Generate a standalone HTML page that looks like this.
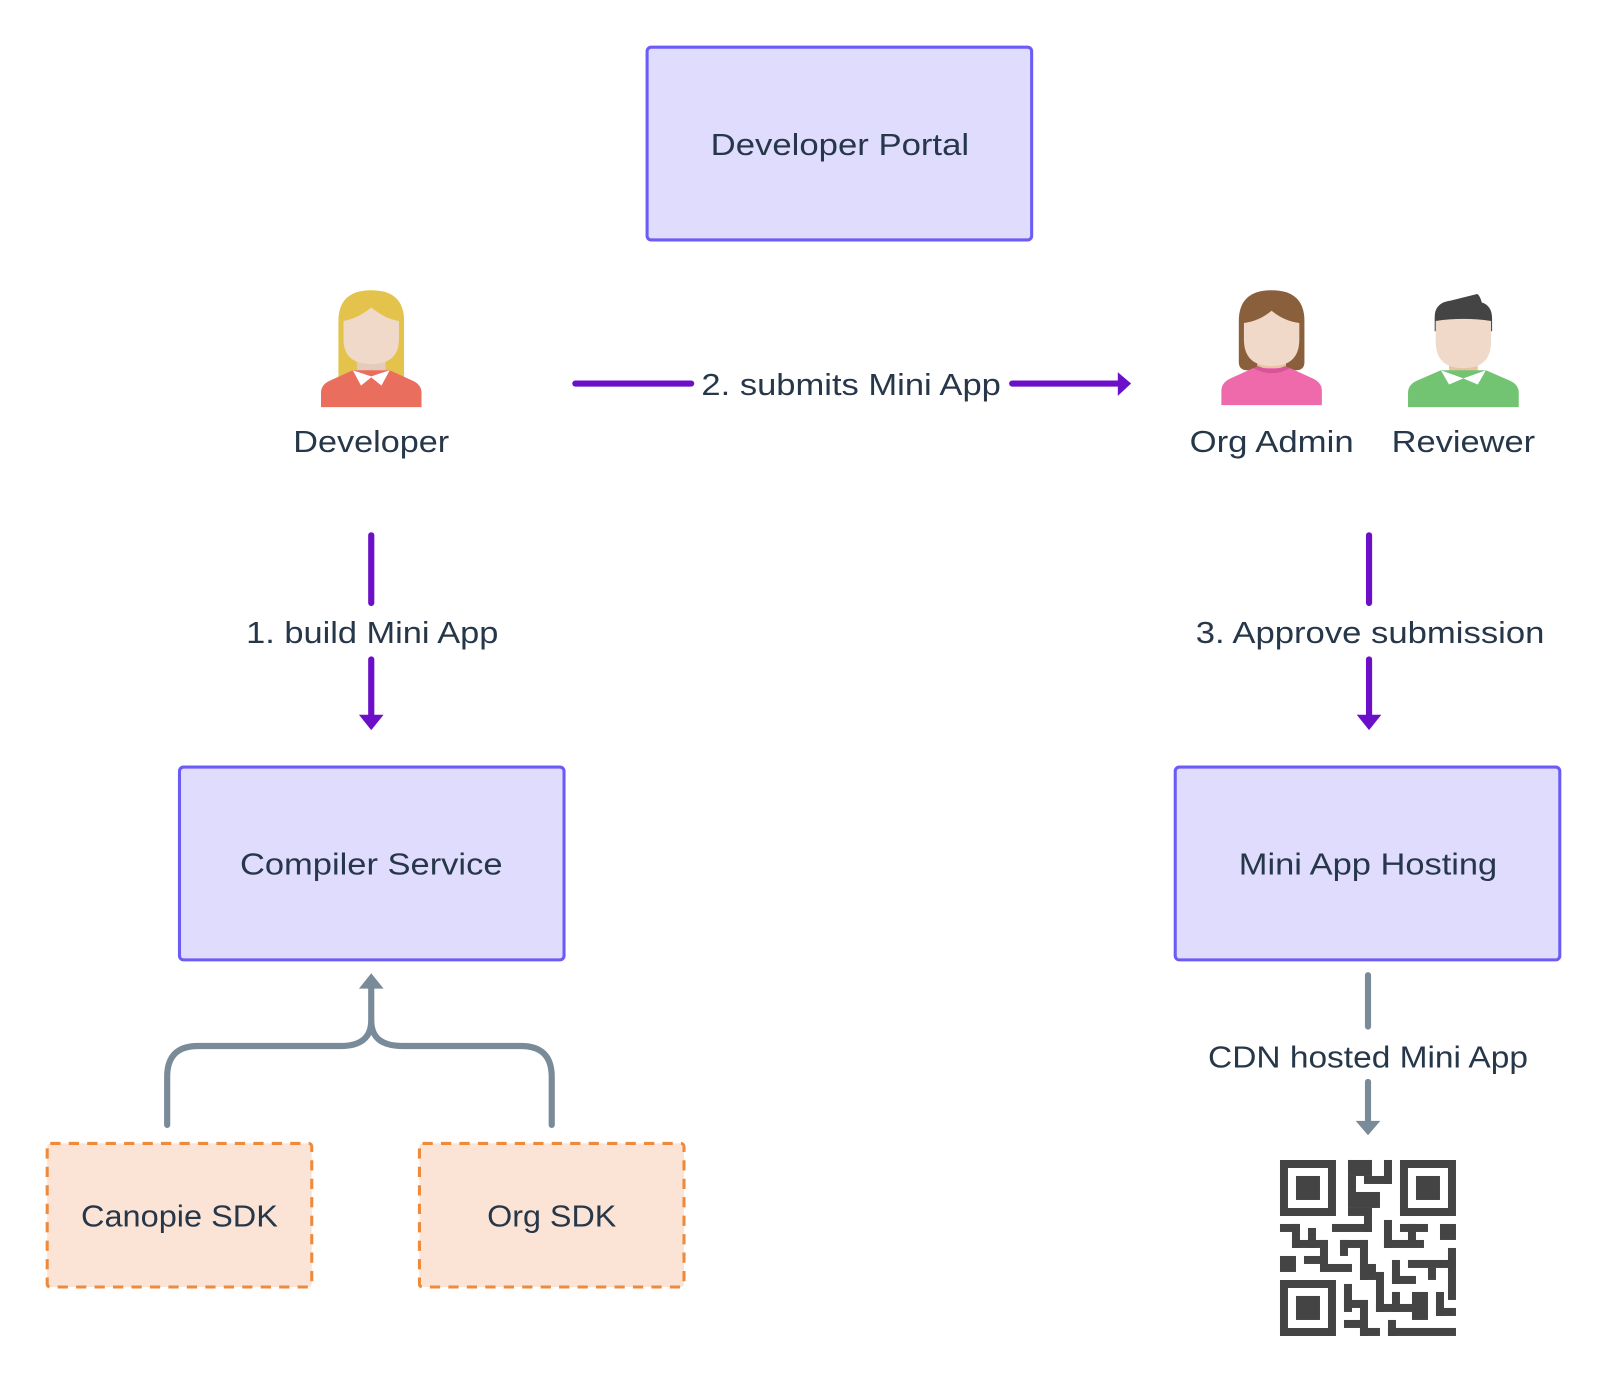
<!DOCTYPE html>
<html><head><meta charset="utf-8"><style>html,body{margin:0;padding:0;background:#fff}svg{display:block}text{font-family:"Liberation Sans",sans-serif;fill:#27374a;font-size:30px;text-anchor:middle}</style></head>
<body>
<svg width="1608" height="1392" viewBox="0 0 1568 1357.4" xmlns="http://www.w3.org/2000/svg">
<!-- boxes -->
<rect x="631" y="46" width="375" height="188" rx="4" fill="#e0dcfd" stroke="#6b5cf5" stroke-width="3"/>
<text x="819" y="151" textLength="252" lengthAdjust="spacingAndGlyphs">Developer Portal</text>
<rect x="175" y="748" width="375" height="188" rx="4" fill="#e0dcfd" stroke="#6b5cf5" stroke-width="3"/>
<text x="362" y="853" textLength="256" lengthAdjust="spacingAndGlyphs">Compiler Service</text>
<rect x="1146" y="748" width="375" height="188" rx="4" fill="#e0dcfd" stroke="#6b5cf5" stroke-width="3"/>
<text x="1334" y="853" textLength="252" lengthAdjust="spacingAndGlyphs">Mini App Hosting</text>
<rect x="46" y="1115" width="258" height="140" rx="3" fill="#fbe4d6" stroke="#ee8a3c" stroke-width="3" stroke-dasharray="10,8"/>
<text x="175" y="1196" textLength="192" lengthAdjust="spacingAndGlyphs">Canopie SDK</text>
<rect x="409" y="1115" width="258" height="140" rx="3" fill="#fbe4d6" stroke="#ee8a3c" stroke-width="3" stroke-dasharray="10,8"/>
<text x="538" y="1196" textLength="126" lengthAdjust="spacingAndGlyphs">Org SDK</text>

<!-- developer icon -->
<g transform="translate(362,283)">
 <path d="M-32,90 L-32,30 Q-32,0 0,0 Q32,0 32,30 L32,90 Z" fill="#e3c34c"/>
 <rect x="-14" y="55" width="28" height="28" fill="#e5cbbb"/>
 <path d="M-27,30 Q-14,28 0,17 Q14,28 27,30 L27,48 Q27,72 0,72 Q-27,72 -27,48 Z" fill="#f0d9c9"/>
 <path d="M-49,114 L-49,100 Q-49,92 -40,88 L-18,78 L18,78 L40,88 Q49,92 49,100 L49,114 Z" fill="#e96e5e"/>
 <path d="M-18,78 L-10,93 L0,85 L10,93 L18,78 L0,84 Z" fill="#fff"/>
</g>
<text x="362" y="441" textLength="152" lengthAdjust="spacingAndGlyphs">Developer</text>

<!-- org admin -->
<g transform="translate(1240,283)">
 <path d="M-32,70 L-32,30 Q-32,0 0,0 Q32,0 32,30 L32,70 Q32,78 24,78 L-24,78 Q-32,78 -32,70 Z" fill="#8a603c"/>
 <rect x="-14" y="55" width="28" height="28" fill="#eac3a3"/>
 <path d="M-27,32 Q-12,30 0,20 Q12,30 27,32 L27,48 Q27,74 0,74 Q-27,74 -27,48 Z" fill="#f0d9c9"/>
 <path d="M-49,112 L-49,98 Q-49,90 -40,86 L-18,76 L18,76 L40,86 Q49,90 49,98 L49,112 Z" fill="#ee6aab"/>
 <path d="M-18,76 Q0,86 18,76 L13,74 Q0,80 -13,74 Z" fill="#d55597"/>
</g>
<text x="1240" y="441" textLength="160" lengthAdjust="spacingAndGlyphs">Org Admin</text>

<!-- reviewer -->
<g transform="translate(1427,283)">
 <path d="M-28,40 L-28,26 Q-28,12 -12,10 L12,4 Q15,2 18,12 Q28,15 28,28 L28,40 Z" fill="#444"/>
 <rect x="-14" y="55" width="28" height="30" fill="#eac3a3"/>
 <path d="M-27,30 Q0,26 27,30 L27,50 Q27,76 0,76 Q-27,76 -27,50 Z" fill="#f0d9c9"/>
 <path d="M-54,114 L-54,100 Q-54,92 -45,88 L-22,78 L22,78 L45,88 Q54,92 54,100 L54,114 Z" fill="#72c472"/>
 <path d="M-22,78 L-14,92 L0,86 L14,92 L22,78 L0,86 Z" fill="#fff"/>
</g>
<text x="1427" y="441" textLength="140" lengthAdjust="spacingAndGlyphs">Reviewer</text>

<!-- purple arrows -->
<g stroke="#6b0fc9" stroke-width="6" stroke-linecap="round" fill="none">
 <line x1="561" y1="374" x2="674" y2="374"/>
 <line x1="987" y1="374" x2="1092" y2="374"/>
 <line x1="362" y1="522" x2="362" y2="588"/>
 <line x1="362" y1="643" x2="362" y2="700"/>
 <line x1="1335" y1="522" x2="1335" y2="588"/>
 <line x1="1335" y1="643" x2="1335" y2="700"/>
</g>
<g fill="#6b0fc9">
 <path d="M1090,363 L1103,374 L1090,386 Z"/>
 <path d="M350,697 L374,697 L362,712 Z"/>
 <path d="M1323,697 L1347,697 L1335,712 Z"/>
</g>
<text x="830" y="385" textLength="292" lengthAdjust="spacingAndGlyphs">2. submits Mini App</text>
<text x="363" y="627" textLength="246" lengthAdjust="spacingAndGlyphs">1. build Mini App</text>
<text x="1336" y="627" textLength="340" lengthAdjust="spacingAndGlyphs">3. Approve submission</text>

<!-- gray -->
<g stroke="#798a98" stroke-width="6" stroke-linecap="round" fill="none">
 <line x1="1334" y1="951" x2="1334" y2="1001"/>
 <line x1="1334" y1="1055" x2="1334" y2="1095"/>
 <path d="M163,1097 L163,1050 Q163,1020 193,1020 L332,1020 Q362,1020 362,995 Q362,1020 392,1020 L508,1020 Q538,1020 538,1050 L538,1097"/>
 <line x1="362" y1="995" x2="362" y2="960"/>
</g>
<g fill="#798a98">
 <path d="M1322,1093 L1346,1093 L1334,1107 Z"/>
 <path d="M350,964 L374,964 L362,949 Z"/>
</g>
<text x="1334" y="1041" textLength="312" lengthAdjust="spacingAndGlyphs">CDN hosted Mini App</text>

<!-- QR -->
<g transform="scale(0.97512) translate(1220,1100) scale(0.33333)" fill="#444">
 <path fill-rule="evenodd" d="M180,180h168v168h-168z M204,204v120h120v-120z"/>
 <rect x="228" y="228" width="72" height="72"/>
 <path fill-rule="evenodd" d="M540,180h168v168h-168z M564,204v120h120v-120z"/>
 <rect x="588" y="228" width="72" height="72"/>
 <path fill-rule="evenodd" d="M180,540h168v168h-168z M204,564v120h120v-120z"/>
 <rect x="228" y="588" width="72" height="72"/>
 <rect x="384" y="180" width="72" height="48"/><rect x="492" y="180" width="24" height="72"/>
 <rect x="432" y="228" width="84" height="24"/><rect x="384" y="228" width="24" height="72"/>
 <rect x="384" y="276" width="96" height="48"/><rect x="384" y="324" width="72" height="24"/>
 <rect x="432" y="324" width="24" height="72"/><rect x="336" y="372" width="120" height="24"/>
 <rect x="180" y="372" width="60" height="24"/><rect x="216" y="372" width="24" height="72"/>
 <rect x="264" y="384" width="24" height="60"/><rect x="216" y="420" width="108" height="24"/>
 <rect x="300" y="420" width="24" height="72"/><rect x="252" y="468" width="72" height="24"/>
 <rect x="300" y="492" width="96" height="24"/><rect x="180" y="468" width="48" height="48"/>
 <rect x="360" y="420" width="84" height="24"/><rect x="360" y="420" width="24" height="48"/>
 <rect x="420" y="420" width="24" height="120"/><rect x="420" y="492" width="48" height="48"/>
 <rect x="468" y="516" width="24" height="120"/><rect x="492" y="360" width="24" height="84"/>
 <rect x="492" y="420" width="120" height="24"/><rect x="540" y="372" width="84" height="24"/>
 <rect x="564" y="372" width="24" height="60"/><rect x="660" y="372" width="48" height="48"/>
 <rect x="516" y="480" width="24" height="72"/><rect x="516" y="528" width="72" height="24"/>
 <rect x="564" y="480" width="144" height="24"/><rect x="684" y="444" width="24" height="60"/>
 <rect x="624" y="504" width="24" height="36"/><rect x="684" y="480" width="24" height="120"/>
 <rect x="372" y="552" width="24" height="84"/><rect x="372" y="600" width="72" height="24"/>
 <rect x="420" y="600" width="24" height="108"/><rect x="372" y="660" width="72" height="24"/>
 <rect x="420" y="684" width="60" height="24"/><rect x="468" y="612" width="108" height="24"/>
 <rect x="516" y="576" width="24" height="60"/><rect x="576" y="576" width="48" height="84"/>
 <rect x="648" y="576" width="24" height="72"/><rect x="648" y="624" width="60" height="24"/>
 <rect x="504" y="660" width="24" height="48"/><rect x="504" y="684" width="204" height="24"/>
</g>
</svg>
</body></html>
